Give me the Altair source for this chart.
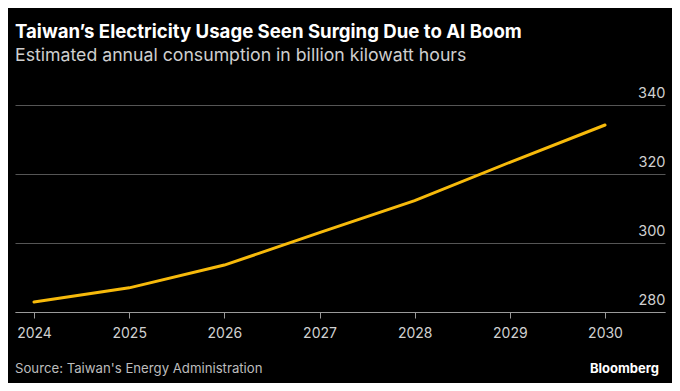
import altair as alt
import pandas as pd

years = [2024, 2025, 2026, 2027, 2028, 2029, 2030]
consumption = [282.9, 287.0, 293.6, 303.0, 312.3, 323.4, 334.2]
y_ticks = [280, 300, 320, 340]

title_text = "Taiwan\u2019s Electricity Usage Seen Surging Due to AI Boom"
subtitle_text = "Estimated annual consumption in billion kilowatt hours"
source_text = "Source: Taiwan's Energy Administration"
brand_text = "Bloomberg"

FONT = "Inter"
W, H = 650, 207
PX_PER_YEAR = 95.17
X_LO = 2024 - 19 / PX_PER_YEAR
X_HI = X_LO + W / PX_PER_YEAR

df = pd.DataFrame({"year": years, "value": consumption})

line = alt.Chart(df).mark_line(color="#F7BA0B", strokeWidth=3, strokeCap="round").encode(
    x=alt.X(
        "year:Q",
        scale=alt.Scale(domain=[X_LO, X_HI], nice=False, zero=False),
        axis=alt.Axis(
            values=years, format="d", title=None, grid=False,
            domainColor="#9a9a9a", domainWidth=1.2,
            tickColor="#9a9a9a", tickSize=6, tickWidth=1,
            labelColor="#d0d0d0", labelFont=FONT, labelFontSize=14,
            labelPadding=8, labelFlush=False,
        ),
    ),
    y=alt.Y(
        "value:Q",
        scale=alt.Scale(domain=[280, 340], nice=False, zero=False),
        axis=alt.Axis(
            orient="right", values=y_ticks, title=None, grid=True,
            gridColor="#555555", gridWidth=1,
            domain=False, ticks=False,
            labelColor="#d0d0d0", labelFont=FONT, labelFontSize=14.5,
            labelAlign="right", labelBaseline="alphabetic", labelPadding=0,
            labelOffset=-8,
        ),
    ),
)

source = alt.Chart(pd.DataFrame({"label": [source_text]})).mark_text(
    align="left", baseline="middle", font=FONT, fontSize=13.2, color="#bdbdbd"
).encode(text="label:N", x=alt.value(0), y=alt.value(264))

brand = alt.Chart(pd.DataFrame({"label": [brand_text]})).mark_text(
    align="right", baseline="middle", font=FONT, fontSize=13, fontWeight="bold", color="#ffffff"
).encode(text="label:N", x=alt.value(644), y=alt.value(264))

chart = alt.layer(line, source, brand).properties(
    width=W,
    height=H,
    background="#000000",
    padding={"left": 7, "top": 97, "right": 7, "bottom": 71},
    autosize=alt.AutoSizeParams(type="none"),
    title=alt.TitleParams(
        text=title_text,
        subtitle=subtitle_text,
        anchor="start",
        frame="group",
        offset=20,
        font=FONT, fontSize=18.6, fontWeight="bold", color="#ffffff",
        subtitleFont=FONT, subtitleFontSize=17.7, subtitleColor="#cfcfcf",
        subtitlePadding=6,
    ),
).configure_view(stroke=None)

chart.save("out.html", embed_options={"renderer": "svg", "actions": False})
